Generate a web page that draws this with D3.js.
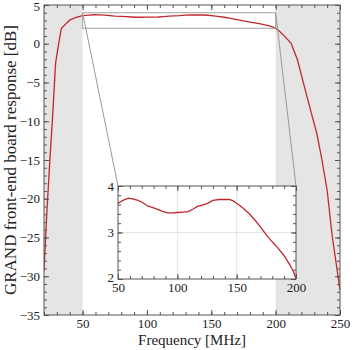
<!doctype html>
<html lang="en">
<head>
  <meta charset="utf-8">
  <script src="https://d3js.org/d3.v7.min.js"></script>
  <style>
    body { margin: 0; background: #fff; }
    text { font-family: "Liberation Serif", serif; fill: #222; }
  </style>
</head>
<body>
<svg id="chart" width="359" height="350"></svg>
<script>
// frequency response
var freq = [20, 22.3, 24.4, 27, 29, 31, 33.5, 40, 45, 50, 55, 59, 63, 67, 71, 75, 80, 84, 88, 92, 96,
  100, 105, 109, 113, 117, 121, 125, 130, 135, 140, 144, 147, 150, 155, 160, 165, 170, 175, 180,
  185, 190, 195, 198, 200, 203, 207, 212, 217, 221, 227, 232, 236, 240, 244, 247, 250];
var response = [-29.3, -21.5, -15.5, -8.5, -2.5, -0.4, 2.0, 3.06, 3.42, 3.63, 3.70, 3.74, 3.72, 3.69, 3.64, 3.57,
  3.53, 3.49, 3.45, 3.42, 3.42, 3.43, 3.44, 3.45, 3.50, 3.56, 3.59, 3.62, 3.69, 3.71, 3.71, 3.71, 3.68,
  3.63, 3.53, 3.42, 3.28, 3.12, 2.95, 2.80, 2.66, 2.50, 2.30, 2.15, 2.0, 1.6, 0.95, 0.05, -2.1, -4.7,
  -8.5, -11.6, -15, -18.9, -24.9, -28.3, -31.8];
var shadedBands = [[20, 50], [200, 250]];
var xTickValues = [50, 100, 150, 200, 250];
var yTickValues = [5, 0, -5, -10, -15, -20, -25, -30, -35];
var insetXTicks = [50, 100, 150, 200];
var insetYTicks = [2, 3, 4];

var svg = d3.select("#chart");
var margin = {top: 5, left: 44, right: 19, bottom: 35},
    width = 359 - margin.left - margin.right,
    height = 350 - margin.top - margin.bottom;

var x = d3.scaleLinear().domain([20, 250]).range([0, width]);
var y = d3.scaleLinear().domain([-35, 5]).range([height, 0]);

var g = svg.append("g").attr("transform", "translate(" + margin.left + "," + margin.top + ")");

svg.append("defs").append("clipPath").attr("id", "mainclip")
  .append("rect").attr("width", width).attr("height", height);

// grey bands outside 50-200 MHz
g.selectAll(".band").data(shadedBands).enter().append("rect")
  .attr("x", function(d) { return x(d[0]); })
  .attr("width", function(d) { return x(d[1]) - x(d[0]); })
  .attr("y", 0).attr("height", height)
  .attr("fill", "#e5e5e5");

var pts = freq.map(function(f, i) { return [f, response[i]]; });

var line = d3.line().x(function(d) { return x(d[0]); }).y(function(d) { return y(d[1]); });
g.append("path").datum(pts).attr("d", line)
  .attr("clip-path", "url(#mainclip)")
  .attr("fill", "none").attr("stroke", "#c1272d").attr("stroke-width", 1.3);

// zoom box
g.append("rect")
  .attr("x", x(50)).attr("y", y(4))
  .attr("width", x(200) - x(50)).attr("height", y(2) - y(4))
  .attr("fill", "none").attr("stroke", "#a0a0a0").attr("stroke-width", 1);

// inset geometry (page coordinates relative to g)
var inset = {left: 118 - margin.left, top: 186 - margin.top, w: 178, h: 93};

g.append("line").attr("x1", x(50)).attr("y1", y(4)).attr("x2", inset.left).attr("y2", inset.top)
  .attr("stroke", "#999").attr("stroke-width", 1);
g.append("line").attr("x1", x(200)).attr("y1", y(4)).attr("x2", inset.left + inset.w).attr("y2", inset.top)
  .attr("stroke", "#999").attr("stroke-width", 1);

function axes(sel, xs, ys, w, h, xMajor, yMajor, xMinor, yMinor, bigTick, smallTick) {
  sel.append("g").attr("transform", "translate(0," + h + ")")
    .call(d3.axisBottom(xs).tickValues(xMajor).tickSize(-bigTick).tickPadding(4).tickFormat(d3.format("d")));
  sel.append("g").attr("transform", "translate(0," + h + ")")
    .call(d3.axisBottom(xs).tickValues(xMinor).tickSize(-smallTick).tickFormat(""));
  sel.append("g").call(d3.axisTop(xs).tickValues(xMajor).tickSize(-bigTick).tickFormat(""));
  sel.append("g").call(d3.axisTop(xs).tickValues(xMinor).tickSize(-smallTick).tickFormat(""));
  sel.append("g").call(d3.axisLeft(ys).tickValues(yMajor).tickSize(-bigTick).tickPadding(4).tickFormat(d3.format("d")));
  sel.append("g").call(d3.axisLeft(ys).tickValues(yMinor).tickSize(-smallTick).tickFormat(""));
  sel.append("g").attr("transform", "translate(" + w + ",0)")
    .call(d3.axisRight(ys).tickValues(yMajor).tickSize(-bigTick).tickFormat(""));
  sel.append("g").attr("transform", "translate(" + w + ",0)")
    .call(d3.axisRight(ys).tickValues(yMinor).tickSize(-smallTick).tickFormat(""));
  sel.selectAll(".domain").remove();
  sel.selectAll(".tick line").attr("stroke", "#555");
  sel.selectAll(".tick text").attr("font-size", 13).attr("font-family", "Liberation Serif, serif").attr("fill", "#222");
  sel.append("rect").attr("width", w).attr("height", h)
    .attr("fill", "none").attr("stroke", "#555").attr("stroke-width", 1);
}

axes(g, x, y, width, height, xTickValues, yTickValues,
  d3.range(20, 251, 10), d3.range(-35, 5.1, 1), 5, 3);

// keep the top "5" label inside the page
g.selectAll(".tick text").filter(function(d) { return d === 5; }).attr("dy", "0.42em");

// inset
var ig = g.append("g").attr("transform", "translate(" + inset.left + "," + inset.top + ")");
var ix = d3.scaleLinear().domain([50, 200]).range([0, inset.w]);
var iy = d3.scaleLinear().domain([2, 4]).range([inset.h, 0]);

svg.append("defs").append("clipPath").attr("id", "insetclip")
  .append("rect").attr("width", inset.w).attr("height", inset.h);

ig.append("rect").attr("width", inset.w).attr("height", inset.h).attr("fill", "#fff");

ig.selectAll(".gx").data([100, 150]).enter().append("line")
  .attr("x1", function(d) { return ix(d); }).attr("x2", function(d) { return ix(d); })
  .attr("y1", 0).attr("y2", inset.h)
  .attr("stroke", "#ddd").attr("stroke-width", 0.8);
ig.append("line").attr("x1", 0).attr("x2", inset.w).attr("y1", iy(3)).attr("y2", iy(3))
  .attr("stroke", "#ddd").attr("stroke-width", 0.8);

var iline = d3.line().x(function(d) { return ix(d[0]); }).y(function(d) { return iy(d[1]); });
ig.append("path").datum(pts.filter(function(d) { return d[0] >= 45 && d[0] <= 203; }))
  .attr("d", iline).attr("clip-path", "url(#insetclip)")
  .attr("fill", "none").attr("stroke", "#c1272d").attr("stroke-width", 1.3);

axes(ig, ix, iy, inset.w, inset.h, insetXTicks, insetYTicks,
  d3.range(50, 201, 10), d3.range(2, 4.01, 0.2), 5, 3);

// nudge inset "2" up a little so it clears the "50" below
ig.selectAll(".tick text").filter(function(d) { return d === 2; }).attr("dy", "0.2em");

// axis titles
g.append("text").attr("x", width / 2).attr("y", height + 30)
  .attr("text-anchor", "middle").attr("font-size", 15)
  .text("Frequency [MHz]");
svg.append("text").attr("transform", "translate(16," + (margin.top + height / 2) + ") rotate(-90)")
  .attr("text-anchor", "middle").attr("font-size", 17)
  .text("GRAND front-end board response [dB]");
</script>
</body>
</html>
